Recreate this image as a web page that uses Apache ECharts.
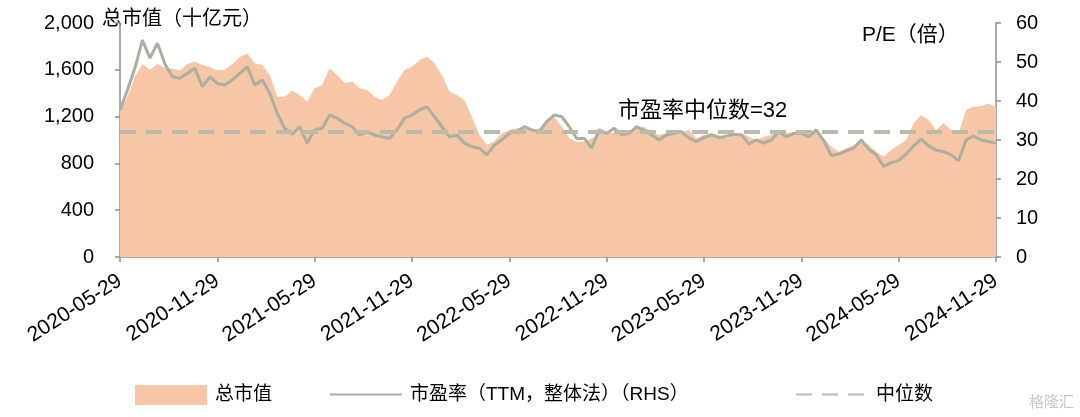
<!DOCTYPE html>
<html>
<head>
<meta charset="utf-8">
<script src="https://cdn.jsdelivr.net/npm/echarts@6/dist/echarts.min.js"></script>
<style>
    html, body { margin: 0; padding: 0; background: #fff; }
    #main { width: 1080px; height: 417px; }
</style>
</head>
<body>
<div id="main"></div>
<script>
    // half-year tick labels, 13 points between two labels
    var tickLabels = ['2020-05-29', '2020-11-29', '2021-05-29', '2021-11-29', '2022-05-29',
        '2022-11-29', '2023-05-29', '2023-11-29', '2024-05-29', '2024-11-29'];
    var stepsPerTick = 13;

    // 总市值（十亿元）
    var marketCap = [
        1250, 1370, 1540, 1650, 1600, 1650, 1615, 1610, 1595, 1650,
        1670, 1640, 1625, 1595, 1600, 1650, 1710, 1740, 1655, 1640,
        1555, 1370, 1370, 1420, 1385, 1327, 1442, 1470, 1613, 1556,
        1484, 1499, 1442, 1427, 1370, 1342, 1385, 1499, 1598, 1626,
        1684, 1712, 1655, 1556, 1413, 1385, 1342, 1199, 1043, 960,
        990, 1057, 1085, 1100, 1114, 1085, 1100, 1171, 1199, 1114,
        1014, 985, 985, 1014, 1057, 1071, 1057, 1043, 1071, 1114,
        1114, 1071, 1043, 1057, 1071, 1071, 1085, 1014, 1043, 1057,
        1043, 1014, 1043, 1057, 1028, 1000, 1028, 1043, 1071, 1057,
        1071, 1043, 1057, 1085, 1014, 943, 900, 929, 957, 1000,
        957, 900, 857, 914, 957, 1000, 1143, 1214, 1171, 1085,
        1143, 1085, 1057, 1256, 1285, 1290, 1313, 1280
    ];

    // 市盈率（TTM，整体法）
    var peRatio = [
        37.7, 42.8, 48.5, 55.6, 51.0, 54.8, 49.5, 46.2, 45.8, 47.1,
        48.4, 43.7, 46.2, 44.5, 44.1, 45.4, 47.1, 48.8, 44.1, 45.4,
        42.0, 36.8, 33.0, 31.5, 33.4, 29.2, 32.6, 33.0, 36.4, 35.6,
        34.3, 33.4, 31.3, 32.1, 31.3, 30.8, 30.4, 32.6, 35.6, 36.4,
        37.7, 38.5, 36.0, 33.4, 30.8, 31.3, 29.2, 28.3, 27.9, 26.2,
        28.7, 30.0, 31.7, 32.1, 33.4, 32.6, 32.1, 34.7, 36.4, 36.0,
        33.4, 30.4, 30.4, 27.9, 32.6, 31.7, 33.0, 31.3, 31.7, 33.4,
        32.5, 31.3, 30.0, 31.3, 31.7, 32.1, 30.5, 29.6, 30.6, 31.3,
        30.6, 31.0, 31.5, 31.3, 29.0, 30.0, 29.2, 30.0, 32.1, 30.8,
        31.7, 31.7, 30.8, 32.6, 29.8, 26.0, 26.4, 27.2, 27.9, 30.0,
        27.6, 26.2, 23.2, 24.2, 24.7, 26.4, 28.5, 30.2, 28.5, 27.4,
        27.0, 26.2, 24.7, 30.0, 31.0, 30.0, 29.6, 29.2
    ];

    var peMedian = 32;

    var categories = [];
    for (var i = 0; i < marketCap.length; i++) {
        var k = Math.floor(i / stepsPerTick);
        categories.push(i % stepsPerTick === 0 ? tickLabels[k] : tickLabels[k] + '+' + (i % stepsPerTick));
    }

    var font = '"Liberation Sans", Arial, "Noto Sans CJK SC", sans-serif';
    var axisGrey = '#8e8e8e';
    var areaColor = '#f6c6a7';
    var peColor = '#abaf9f';
    var medianColor = '#b9bbab';

    var legendBase = function(left, item) {
        return {
            left: left,
            top: 380,
            itemWidth: 72,
            itemHeight: 20,
            textStyle: { fontSize: 19, color: '#000', fontFamily: font, padding: [0, 0, 0, 3] },
            data: [item]
        };
    };

    var option = {
        animation: false,
        textStyle: { fontFamily: font },
        grid: { left: 120, right: 84, top: 23, bottom: 160 },
        legend: [
            legendBase(130, { name: '总市值', icon: 'rect' }),
            legendBase(324, { name: '市盈率（TTM，整体法）（RHS）', itemStyle: { opacity: 0 } }),
            legendBase(790, { name: '中位数', itemStyle: { opacity: 0 } })
        ],
        xAxis: {
            type: 'category',
            data: categories,
            boundaryGap: false,
            axisLine: { lineStyle: { color: axisGrey, width: 1.5 } },
            axisTick: { show: true, interval: stepsPerTick - 1, length: 5, lineStyle: { color: axisGrey, width: 1.5 } },
            axisLabel: {
                interval: stepsPerTick - 1,
                rotate: 33,
                margin: 22,
                fontSize: 21,
                color: '#000',
                fontFamily: font,
                formatter: function(v) {
                    return tickLabels.indexOf(v) > -1 ? v : '';
                }
            },
            splitLine: { show: false }
        },
        yAxis: [{
            type: 'value',
            min: 0,
            max: 2000,
            interval: 400,
            axisLine: { show: true, lineStyle: { color: axisGrey, width: 1.5 } },
            axisTick: { show: true, length: 5, lineStyle: { color: axisGrey, width: 1.5 } },
            axisLabel: { fontSize: 20, color: '#000', margin: 26, fontFamily: font },
            splitLine: { show: false }
        }, {
            type: 'value',
            min: 0,
            max: 60,
            interval: 10,
            position: 'right',
            axisLine: { show: true, lineStyle: { color: axisGrey, width: 1.5 } },
            axisTick: { show: true, length: 5, lineStyle: { color: axisGrey, width: 1.5 } },
            axisLabel: { fontSize: 20, color: '#000', margin: 20, fontFamily: font },
            splitLine: { show: false }
        }],
        series: [{
            name: '总市值',
            type: 'line',
            yAxisIndex: 0,
            data: marketCap,
            symbol: 'none',
            itemStyle: { color: areaColor },
            lineStyle: { width: 0, color: areaColor },
            areaStyle: { color: areaColor, opacity: 1 },
            z: 1
        }, {
            name: '中位数',
            type: 'line',
            yAxisIndex: 1,
            data: [],
            symbol: 'none',
            itemStyle: { color: medianColor },
            lineStyle: { color: medianColor, width: 4, type: [16, 10] },
            markLine: {
                silent: true,
                symbol: 'none',
                label: { show: false },
                lineStyle: { color: medianColor, width: 4, type: [16, 10] },
                data: [{ yAxis: peMedian }]
            },
            z: 2
        }, {
            name: '市盈率（TTM，整体法）（RHS）',
            type: 'line',
            yAxisIndex: 1,
            data: peRatio,
            symbol: 'none',
            itemStyle: { color: peColor },
            lineStyle: { color: peColor, width: 3 },
            z: 3
        }],
        graphic: [{
            type: 'text',
            left: 102,
            top: 7,
            style: { text: '总市值（十亿元）', font: '20px "Noto Sans CJK SC", sans-serif', fill: '#000' }
        }, {
            type: 'text',
            left: 862,
            top: 25,
            style: { text: 'P/E（倍）', font: '21px "Liberation Sans", "Noto Sans CJK SC", sans-serif', fill: '#000' }
        }, {
            type: 'text',
            left: 618,
            top: 100,
            style: { text: '市盈率中位数=' + peMedian, font: '22px "Liberation Sans", "Noto Sans CJK SC", sans-serif', fill: '#000' }
        }, {
            type: 'text',
            right: 6,
            top: 394,
            style: { text: '格隆汇', font: '15px "Noto Sans CJK SC", sans-serif', fill: '#c8c8c8' }
        }]
    };

    var myChart = echarts.init(document.getElementById('main'));
    myChart.setOption(option);
</script>
</body>
</html>
